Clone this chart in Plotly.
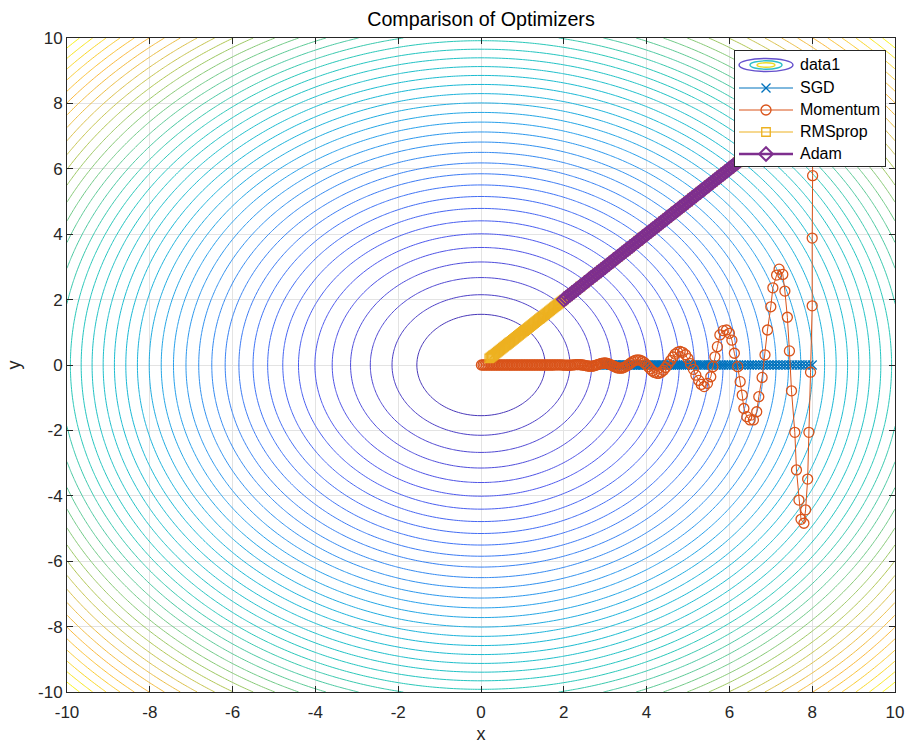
import numpy as np
import plotly.graph_objects as go

# ---------------- data ----------------
tick_vals = [-10, -8, -6, -4, -2, 0, 2, 4, 6, 8, 10]
tick_text = ["-10", "-8", "-6", "-4", "-2", "0", "2", "4", "6", "8", "10"]

# contour levels of the loss surface (levels equally spaced in r^1.5)
contour_start = 1.93
contour_step = 1.221
contour_end = 53.2

# SGD: along y = 0
sgd_x = [8.00, 7.92, 7.84, 7.76, 7.69, 7.61, 7.53, 7.46, 7.38, 7.31,
         7.24, 7.16, 7.09, 7.02, 6.95, 6.88, 6.81, 6.74, 6.67, 6.61,
         6.54, 6.48, 6.41, 6.35, 6.28, 6.22, 6.16, 6.10, 6.04, 5.98,
         5.92, 5.86, 5.80, 5.74, 5.68, 5.62, 5.57, 5.51, 5.46, 5.40,
         5.35, 5.30, 5.24, 5.19, 5.14, 5.09, 5.04, 4.99, 4.94, 4.89,
         4.84, 4.79, 4.74, 4.70, 4.65, 4.60, 4.56, 4.51, 4.47, 4.42,
         4.38, 4.34, 4.29, 4.25, 4.21, 4.17, 4.12, 4.08, 4.04, 4.00,
         3.96, 3.92, 3.89, 3.85, 3.81, 3.77, 3.73, 3.70, 3.66, 3.62,
         3.59, 3.55, 3.52, 3.48, 3.45, 3.41, 3.38, 3.35, 3.31, 3.28,
         3.25, 3.22, 3.18, 3.15, 3.12, 3.09, 3.06, 3.03, 3.00, 2.97, 2.94]
sgd_y = [0, 0, 0, 0, 0, 0, 0, 0, 0, 0,
         0, 0, 0, 0, 0, 0, 0, 0, 0, 0,
         0, 0, 0, 0, 0, 0, 0, 0, 0, 0,
         0, 0, 0, 0, 0, 0, 0, 0, 0, 0,
         0, 0, 0, 0, 0, 0, 0, 0, 0, 0,
         0, 0, 0, 0, 0, 0, 0, 0, 0, 0,
         0, 0, 0, 0, 0, 0, 0, 0, 0, 0,
         0, 0, 0, 0, 0, 0, 0, 0, 0, 0,
         0, 0, 0, 0, 0, 0, 0, 0, 0, 0,
         0, 0, 0, 0, 0, 0, 0, 0, 0, 0, 0]

# Momentum
mom_x = [8.00, 8.01, 8.00, 8.00, 7.96, 7.92, 7.89, 7.84, 7.80, 7.73,
         7.68, 7.62, 7.58, 7.50, 7.45, 7.40, 7.34, 7.29, 7.20, 7.14,
         7.05, 7.00, 6.92, 6.86, 6.79, 6.71, 6.66, 6.58, 6.50, 6.42,
         6.35, 6.31, 6.26, 6.20, 6.12, 6.06, 6.00, 5.93, 5.85, 5.77,
         5.71, 5.65, 5.60, 5.55, 5.47,
         5.39, 5.32, 5.26, 5.19, 5.13, 5.06, 5.00, 4.94, 4.87, 4.81,
         4.75, 4.69, 4.64, 4.58, 4.52, 4.46, 4.41, 4.35, 4.30, 4.25,
         4.19, 4.14, 4.09, 4.04, 3.99, 3.94, 3.89, 3.84, 3.79, 3.74,
         3.70, 3.65, 3.61, 3.56, 3.52, 3.47, 3.43, 3.39, 3.34, 3.30,
         3.26, 3.22, 3.18, 3.14, 3.10, 3.06, 3.02, 2.99, 2.95, 2.91,
         2.88, 2.84, 2.80, 2.77, 2.73, 2.70, 2.67, 2.63, 2.60, 2.57, 2.53,
         2.49, 2.45, 2.41, 2.37, 2.33, 2.29, 2.25, 2.21, 2.17, 2.13,
         2.09, 2.05, 2.01, 1.97, 1.93, 1.89, 1.85, 1.81, 1.77, 1.73,
         1.69, 1.65, 1.61, 1.57, 1.53, 1.49, 1.45, 1.41, 1.37, 1.33,
         1.29, 1.25, 1.21, 1.17, 1.13, 1.09, 1.05, 1.01, 0.97, 0.93,
         0.89, 0.85, 0.81, 0.77, 0.73, 0.69, 0.65, 0.61, 0.57, 0.53,
         0.49, 0.45, 0.41, 0.37, 0.33, 0.29, 0.25, 0.21, 0.17, 0.13,
         0.09, 0.05, 0.01]
mom_y = [8.00, 5.79, 3.88, 1.81, -0.22, -2.06, -3.49, -4.43, -4.84, -4.72,
         -4.13, -3.21, -2.06, -0.79, 0.43, 1.46, 2.26, 2.77, 2.93, 2.75,
         2.36, 1.78, 1.07, 0.31, -0.38, -0.97, -1.43, -1.68, -1.68, -1.58,
         -1.33, -0.92, -0.51, -0.05, 0.36, 0.76, 0.97, 1.07, 1.05, 0.92,
         0.56, 0.25, -0.05, -0.36, -0.56,
         -0.660, -0.594, -0.471, -0.311, -0.132, 0.042, 0.196, 0.314, 0.388, 0.414,
         0.393, 0.334, 0.244, 0.138, 0.027, -0.076, -0.161, -0.222, -0.253, -0.254,
         -0.228, -0.181, -0.119, -0.051, 0.016, 0.075, 0.121, 0.150, 0.159, 0.151,
         0.128, 0.094, 0.053, 0.010, -0.029, -0.062, -0.085, -0.097, -0.097, -0.088,
         -0.069, -0.046, -0.020, 0.006, 0.029, 0.046, 0.057, 0.061, 0.058, 0.049,
         0.036, 0.020, 0.004, -0.011, -0.024, -0.032, -0.037, -0.037, -0.033, -0.027, -0.018,
         -0.008, 0.000, 0.007, 0.011, 0.012, 0.010, 0.006, 0.001, -0.004, -0.007,
         -0.007, -0.006, -0.003, 0.000, 0.002, 0.004, 0.004, 0.003, 0.001, 0.000,
         0, 0, 0, 0, 0, 0, 0, 0, 0, 0,
         0, 0, 0, 0, 0, 0, 0, 0, 0, 0,
         0, 0, 0, 0, 0, 0, 0, 0, 0, 0,
         0, 0, 0, 0, 0, 0, 0, 0, 0, 0,
         0, 0, 0]

# RMSprop: points on the diagonal y = x
rms_path = [8.0, 7.9, 7.8, 7.7, 7.6, 7.5, 7.4, 7.3, 7.2, 7.1,
            7.0, 6.9, 6.8, 6.7, 6.6, 6.5, 6.4, 6.3, 6.2, 6.1,
            6.0, 5.9, 5.8, 5.7, 5.6, 5.5, 5.4, 5.3, 5.2, 5.1,
            5.0, 4.9, 4.8, 4.7, 4.6, 4.5, 4.4, 4.3, 4.2, 4.1,
            4.0, 3.9, 3.8, 3.7, 3.6, 3.5, 3.4, 3.3, 3.2, 3.1,
            3.0, 2.9, 2.8, 2.7, 2.6, 2.5, 2.4, 2.3, 2.2, 2.1,
            2.00, 1.97, 1.94, 1.91, 1.88, 1.85, 1.82, 1.79, 1.76, 1.73,
            1.70, 1.67, 1.64, 1.61, 1.58, 1.55, 1.52, 1.49, 1.46, 1.43,
            1.40, 1.37, 1.34, 1.31, 1.28, 1.25, 1.22, 1.19, 1.16, 1.13,
            1.10, 1.07, 1.04, 1.01, 0.98, 0.95, 0.92, 0.89, 0.86, 0.83,
            0.80, 0.77, 0.74, 0.71, 0.68, 0.65, 0.62, 0.59, 0.56, 0.53,
            0.50, 0.47, 0.44, 0.41, 0.38, 0.35, 0.32, 0.29, 0.26, 0.23, 0.20]

# Adam: points on the diagonal y = x
adam_path = [8.00, 7.95, 7.90, 7.85, 7.80, 7.75, 7.70, 7.65, 7.60, 7.55,
             7.50, 7.45, 7.40, 7.35, 7.30, 7.25, 7.20, 7.15, 7.10, 7.05,
             7.00, 6.95, 6.90, 6.85, 6.80, 6.75, 6.70, 6.65, 6.60, 6.55,
             6.50, 6.45, 6.40, 6.35, 6.30, 6.25, 6.20, 6.15, 6.10, 6.05,
             6.00, 5.95, 5.90, 5.85, 5.80, 5.75, 5.70, 5.65, 5.60, 5.55,
             5.50, 5.45, 5.40, 5.35, 5.30, 5.25, 5.20, 5.15, 5.10, 5.05,
             5.00, 4.95, 4.90, 4.85, 4.80, 4.75, 4.70, 4.65, 4.60, 4.55,
             4.50, 4.45, 4.40, 4.35, 4.30, 4.25, 4.20, 4.15, 4.10, 4.05,
             4.00, 3.95, 3.90, 3.85, 3.80, 3.75, 3.70, 3.65, 3.60, 3.55,
             3.50, 3.45, 3.40, 3.35, 3.30, 3.25, 3.20, 3.15, 3.10, 3.05,
             3.00, 2.95, 2.90, 2.85, 2.80, 2.75, 2.70, 2.65, 2.60, 2.55,
             2.50, 2.45, 2.40, 2.35, 2.30, 2.25, 2.20, 2.15, 2.10, 2.05, 2.00]

legend_labels = ["data1", "SGD", "Momentum", "RMSprop", "Adam"]

# ---------------- styling ----------------
C_SGD, C_MOM, C_RMS, C_ADAM = "#0072BD", "#D95319", "#EDB120", "#7E2F8E"
parula = [
    [0.00, "rgb(72,55,185)"],
    [0.04, "rgb(80,70,208)"],
    [0.12, "rgb(78,88,238)"],
    [0.22, "rgb(64,116,246)"],
    [0.36, "rgb(42,158,236)"],
    [0.46, "rgb(25,184,214)"],
    [0.58, "rgb(38,200,188)"],
    [0.67, "rgb(100,202,145)"],
    [0.75, "rgb(172,200,85)"],
    [0.82, "rgb(232,190,68)"],
    [0.88, "rgb(252,184,58)"],
    [0.94, "rgb(250,208,42)"],
    [1.00, "rgb(249,245,22)"],
]

grid = np.linspace(-10, 10, 241)
GX, GY = np.meshgrid(grid, grid)
Z = (GX ** 2 + GY ** 2) ** 0.75

FONT = "Liberation Sans, Arial, Helvetica, sans-serif"
AX = "#262626"

fig = go.Figure()
fig.add_trace(go.Contour(
    x=grid, y=grid, z=Z, name="data1", showlegend=False, showscale=False,
    colorscale=parula, zmin=0, zmax=float(Z.max()),
    contours=dict(coloring="lines", start=contour_start, end=contour_end,
                  size=contour_step),
    line=dict(width=1), hoverinfo="skip",
))
sgd_marker = dict(symbol="x-thin-open", size=9, color=C_SGD, line=dict(color=C_SGD, width=1.3))
mom_marker = dict(symbol="circle-open", size=10, color=C_MOM, line=dict(color=C_MOM, width=1.3))
rms_marker = dict(symbol="square-open", size=8.5, color=C_RMS, line=dict(color=C_RMS, width=1.3))
adam_marker = dict(symbol="diamond-open", size=10.5, color=C_ADAM, line=dict(color=C_ADAM, width=2))

fig.add_trace(go.Scatter(x=sgd_x, y=sgd_y, name="SGD", mode="lines+markers",
                         line=dict(color=C_SGD, width=1), marker=sgd_marker,
                         showlegend=False))
fig.add_trace(go.Scatter(x=mom_x, y=mom_y, name="Momentum", mode="lines+markers",
                         line=dict(color=C_MOM, width=1), marker=mom_marker,
                         showlegend=False))
fig.add_trace(go.Scatter(x=rms_path, y=rms_path, name="RMSprop", mode="lines+markers",
                         line=dict(color=C_RMS, width=1), marker=rms_marker,
                         showlegend=False))
fig.add_trace(go.Scatter(x=adam_path, y=adam_path, name="Adam", mode="lines+markers",
                         line=dict(color=C_ADAM, width=2.5), marker=adam_marker,
                         showlegend=False))

# ---------------- legend drawn as an inset (pixel coordinates) ----------------
PL, PT, PW, PH = 67, 38, 828, 654          # plot area in pixels
LX0, LX1, LY0, LY1 = 735, 885, 51, 166      # legend box in pixels
rows = [65, 88, 110, 132, 154]
sym_x0, sym_xc, sym_x1, text_x = 739, 766, 793, 798

styles = [None,
          (C_SGD, 1, sgd_marker),
          (C_MOM, 1, mom_marker),
          (C_RMS, 1, rms_marker),
          (C_ADAM, 2.5, adam_marker)]
for ry, st in zip(rows[1:], styles[1:]):
    col, lw, mk = st
    fig.add_trace(go.Scatter(x=[sym_x0, sym_x1], y=[ry, ry], mode="lines",
                             line=dict(color=col, width=lw), xaxis="x2", yaxis="y2",
                             showlegend=False, hoverinfo="skip"))
    fig.add_trace(go.Scatter(x=[sym_xc], y=[ry], mode="markers", marker=mk,
                             xaxis="x2", yaxis="y2", showlegend=False, hoverinfo="skip"))

shapes = []
for (hw, hh, col) in [(27, 6.5, "rgb(100,80,205)"), (16, 4.2, "rgb(45,190,200)"),
                      (9, 2.2, "rgb(235,220,40)")]:
    shapes.append(dict(type="circle", xref="x2", yref="y2",
                       x0=sym_xc - hw, x1=sym_xc + hw,
                       y0=rows[0] - hh, y1=rows[0] + hh,
                       line=dict(color=col, width=1.4), layer="above"))

annotations = [dict(x=text_x, y=ry, xref="x2", yref="y2", text=lab, showarrow=False,
                    xanchor="left", yanchor="middle",
                    font=dict(family=FONT, size=16, color="#000000"))
               for ry, lab in zip(rows, legend_labels)]

axis_common = dict(
    range=[-10, 10], tickvals=tick_vals, ticktext=tick_text,
    showgrid=True, gridcolor="#e3e3e3", gridwidth=1, zeroline=False,
    showline=True, linecolor=AX, linewidth=1, mirror="ticks",
    ticks="inside", ticklen=6, tickcolor=AX, automargin=True,
    tickfont=dict(family=FONT, size=17, color=AX),
)
inset_common = dict(showgrid=False, zeroline=False, showticklabels=False, ticks="",
                    showline=True, linecolor=AX, linewidth=1, mirror=True,
                    fixedrange=True)

fig.update_layout(
    width=907, height=744,
    margin=dict(l=PL, r=907 - PL - PW, t=PT, b=744 - PT - PH, autoexpand=False),
    paper_bgcolor="white", plot_bgcolor="white",
    title=dict(text="Comparison of Optimizers", x=(PL + PW / 2) / 907, xanchor="center",
               y=1 - 19 / 744, yanchor="middle",
               font=dict(family=FONT, size=19.7, color="#000000")),
    xaxis=dict(axis_common, ticklabelstandoff=5,
               title=dict(text="x", standoff=10,
                          font=dict(family=FONT, size=18, color=AX))),
    yaxis=dict(axis_common, title=dict(text="y", standoff=12,
                                       font=dict(family=FONT, size=18, color=AX))),
    xaxis2=dict(inset_common, anchor="y2", range=[LX0, LX1],
                domain=[(LX0 - PL) / PW, (LX1 - PL) / PW]),
    yaxis2=dict(inset_common, anchor="x2", range=[LY1, LY0],
                domain=[(PT + PH - LY1) / PH, (PT + PH - LY0) / PH]),
    shapes=shapes,
    annotations=annotations,
    showlegend=False,
)

fig.write_html("out.html")
